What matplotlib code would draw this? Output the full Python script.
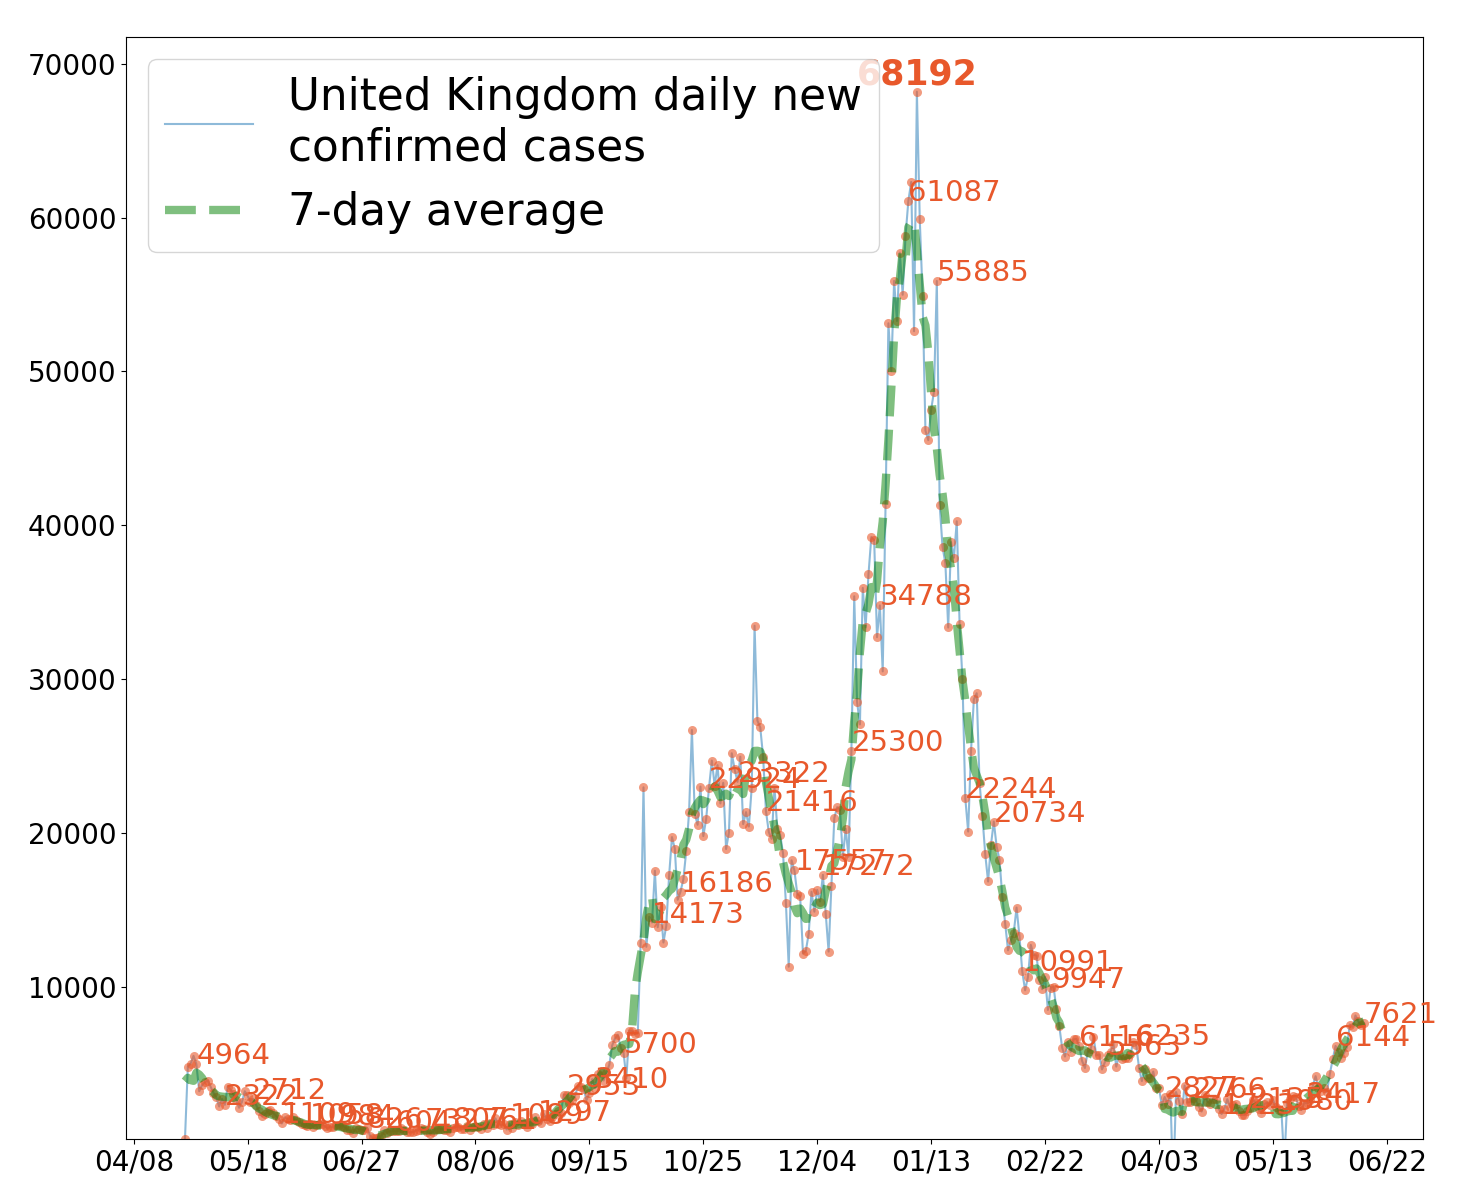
import pandas as pd
import matplotlib
matplotlib.use('Agg')
import matplotlib.pyplot as plt
import matplotlib.dates as mdates

# daily new confirmed cases, United Kingdom, starting 2020-04-26
start_date = '2020-04-26'
apr_2020 = [100, 4800, 5000, 5500, 4964]
may_2020 = [3200, 3600, 3800, 3900, 3500, 3100, 2800, 2210, 2700, 2322,
            3510, 3300, 3000, 2650, 2130, 2500, 3200, 2900, 2500, 2712,
            2300, 1900, 1560, 1700, 1890, 2000, 1800, 1600, 1400, 1109, 1500]
jun_2020 = [1400, 1350, 1500, 1300, 1200, 1100, 1000, 950, 1058, 900,
            1000, 1100, 1050, 950, 800, 900, 850, 1000, 984, 950,
            900, 700, 650, 500, 800, 750, 700, 650, 826, 300]
jul_2020 = [150, 150, 200, 300, 650, 500, 600, 630, 604, 642,
            820, 650, 530, 538, 540, 642, 687, 827, 732, 580,
            445, 560, 769, 767, 767, 688, 685, 581, 807, 846, 880]
aug_2020 = [744, 743, 938, 670, 892, 950, 871, 761, 1062, 816,
            1148, 1009, 1441, 1062, 1012, 1040, 713, 1089, 812, 1182,
            1033, 1288, 1041, 853, 1184, 1048, 1522, 1297, 1108, 1715, 1406]
sep_2020 = [1295, 1508, 1735, 1940, 1813, 2988, 2953, 2460, 2659, 2919,
            3539, 3497, 3330, 2621, 3105, 3991, 3410, 4322, 4422, 3899,
            4368, 4926, 6178, 6634, 6874, 6042, 5700, 4044, 7143, 7108]
oct_2020 = [6914, 6968, 12872, 22961, 12594, 14542, 14173, 17540, 13864, 15166,
            12872, 13972, 17234, 19724, 18980, 15650, 16186, 16982, 18804, 21331,
            26688, 21242, 20530, 23012, 19790, 20890, 22924, 24701, 23065, 24405, 21915]
nov_2020 = [23254, 18950, 20018, 25177, 24141, 23322, 24957, 20572, 21350, 20412,
            22950, 33470, 27301, 26860, 24962, 21416, 20051, 19609, 22915, 20252,
            19875, 18662, 15450, 11299, 18213, 17557, 16022, 15871, 12155, 12330]
dec_2020 = [13430, 16170, 14879, 16298, 15539, 17272, 14718, 12282, 16578, 20964,
            21672, 21502, 18447, 20263, 18450, 25300, 35383, 28507, 27052, 35928,
            33364, 36804, 39237, 39036, 32725, 34788, 30501, 41385, 53135, 50023, 55892]
jan_2021 = [53285, 57725, 54990, 58784, 61087, 62322, 52618, 68192, 59937, 54940,
            46169, 45533, 47525, 48682, 55885, 41346, 38598, 37535, 33355, 38905,
            37892, 40261, 33552, 30004, 22244, 20089, 25308, 28680, 29079, 23275, 21088]
feb_2021 = [18607, 16840, 19202, 20734, 19114, 18262, 15845, 14104, 12364, 13013,
            13494, 15144, 13308, 10991, 9765, 10625, 12718, 12057, 12027, 10406,
            9834, 10641, 8489, 9947, 9985, 8523, 7434, 6035]
mar_2021 = [5455, 6391, 5766, 6573, 6609, 6116, 5177, 4712, 5766, 5926,
            6753, 5534, 5587, 4618, 5089, 5563, 5758, 6303, 4802, 5587,
            5312, 5342, 5379, 5605, 6397, 6235, 4715, 3862, 4654, 4052, 4040]
apr_2021 = [4479, 3402, 3423, 2297, 2827, 2379, 3030, -3000, 3150, 2589,
            1730, 3568, 2472, 2491, 2766, 2596, 2206, 1882, 2963, 2524,
            2396, 2729, 2678, 2061, 1723, 2064, 2685, 2166, 2284, 2381]
may_2021 = [1907, 1671, 1649, 1946, 2135, 2613, 2490, 2047, 1770, 2357,
            2474, 2284, 2657, 2193, 1980, 1926, -1500, 2412, 2696, 2874,
            2829, 2235, 1979, 2439, 2417, 2613, 3542, 4182, 3398, 3240, 3383]
jun_2021 = [3165, 4330, 5274, 6144, 5765, 5341, 5683, 6048, 7540, 7393,
            8125, 7738, 7490, 7621]

tick_dates = ['2020-04-08', '2020-05-18', '2020-06-27', '2020-08-06',
              '2020-09-15', '2020-10-25', '2020-12-04', '2021-01-13',
              '2021-02-22', '2021-04-03', '2021-05-13', '2021-06-22']

daily_cases = (apr_2020 + may_2020 + jun_2020 + jul_2020 + aug_2020 + sep_2020
               + oct_2020 + nov_2020 + dec_2020 + jan_2021 + feb_2021
               + mar_2021 + apr_2021 + may_2021 + jun_2021)
dates = pd.date_range(start_date, periods=len(daily_cases), freq='D')
cases = pd.Series(daily_cases, index=dates)
avg7 = cases.rolling(7, center=True, min_periods=1).mean()

label_color = '#E8582B'

fig = plt.figure(figsize=(14.62, 11.96), dpi=100)
ax = fig.add_axes([0.0862, 0.0477, 0.8871, 0.9214])

ax.plot(dates, cases, color='tab:blue', alpha=0.5, lw=1.5,
        label='United Kingdom daily new\nconfirmed cases')
ax.plot(dates, cases, 'o', color=label_color, alpha=0.6, markersize=6.5,
        markeredgewidth=0)
ax.plot(dates, avg7, '--', color='green', alpha=0.5, lw=6, label='7-day average')

# value labels every 10 days, counted back from the last day
for i in range(len(cases) - 1, -1, -10):
    ax.text(dates[i], cases.iloc[i], str(cases.iloc[i]), color=label_color,
            fontsize=21)

peak_day = cases.idxmax()
ax.text(peak_day, cases.max(), str(cases.max()), color=label_color, fontsize=25,
        fontweight='bold', ha='center', va='bottom')

ax.set_ylim(bottom=100)
ax.set_xticks(pd.to_datetime(tick_dates))
ax.xaxis.set_major_formatter(mdates.DateFormatter('%m/%d'))
ax.tick_params(labelsize=20)
ax.legend(loc='upper left', fontsize=31.5)

fig.savefig('out.png', dpi=100)
